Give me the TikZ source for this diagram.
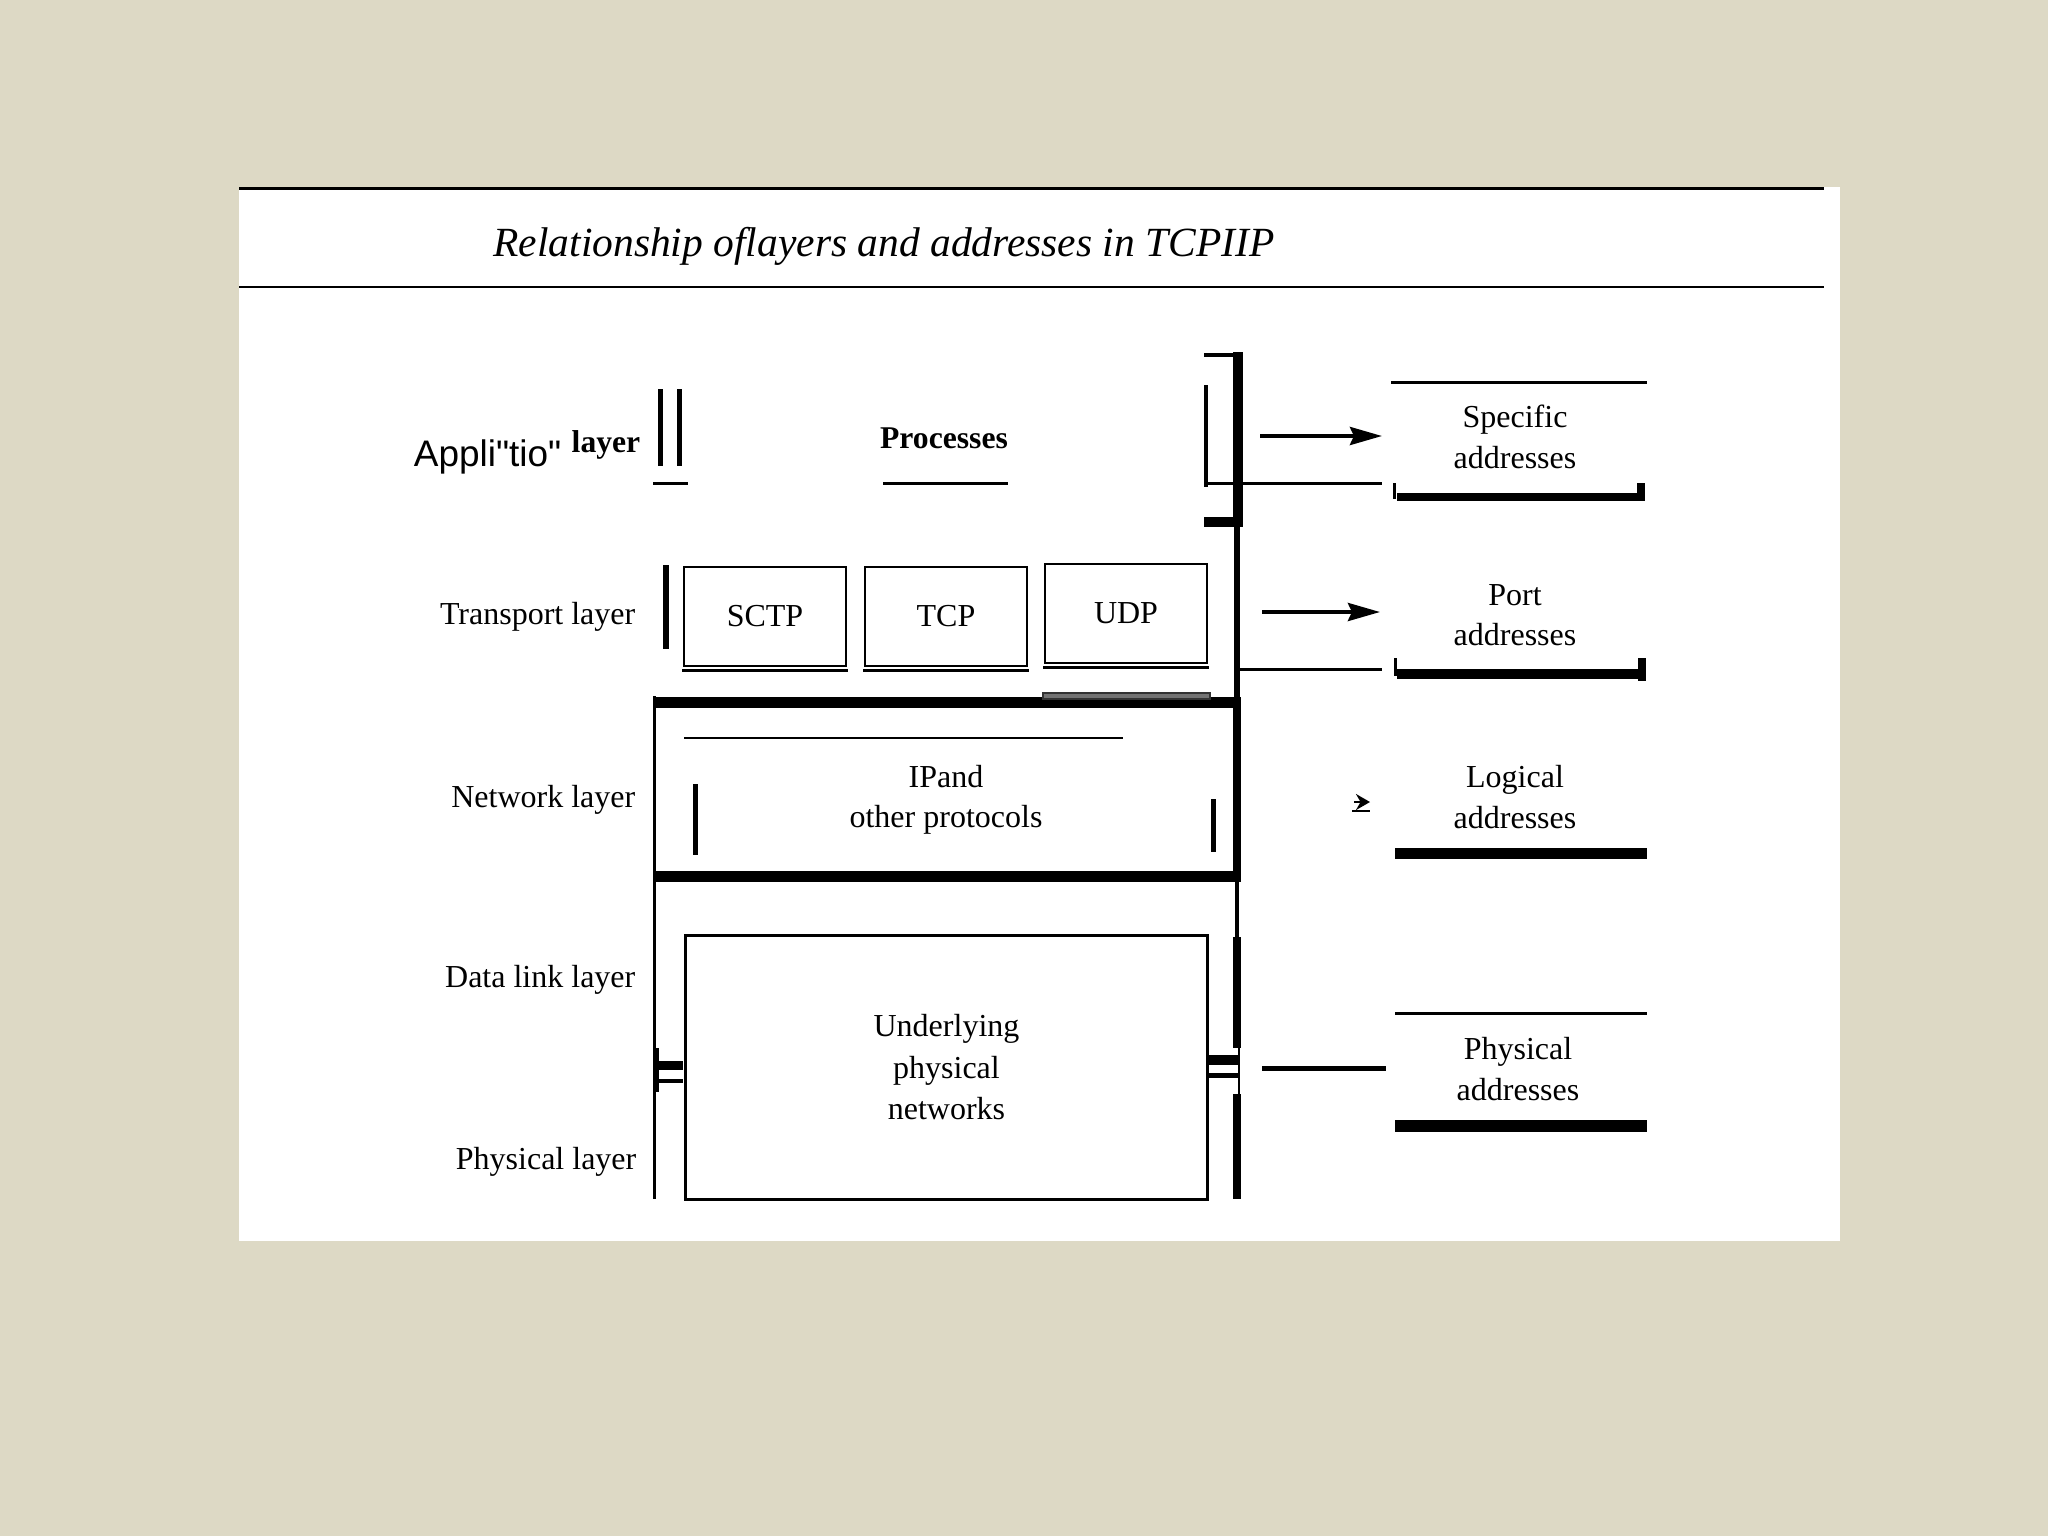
\documentclass[tikz,border=0pt]{standalone}
\usepackage{fontspec}
\setmainfont{Liberation Serif}
\newfontfamily\arialfont{Liberation Sans}
\usetikzlibrary{arrows.meta}
\definecolor{beige}{RGB}{221,217,197}
\begin{document}
\begin{tikzpicture}[x=0.01cm,y=-0.01cm,
  lab/.style={font=\fontsize{9.1}{11.5}\selectfont, inner sep=0pt, align=center},
  lyr/.style={font=\fontsize{9.1}{11.5}\selectfont, inner sep=0pt, anchor=base east},
  pbox/.style={draw, line width=0.025cm, minimum width=1.62cm, minimum height=0.99cm, inner sep=0pt, font=\fontsize{9.1}{11.5}\selectfont},
  lw2/.style={line width=0.025cm},
  lw3/.style={line width=0.03cm},
  lw5/.style={line width=0.05cm},
  lw8/.style={line width=0.08cm},
  lw10/.style={line width=0.10cm},
  arr/.style={line width=0.04cm, -{Stealth[length=0.32cm,width=0.18cm,inset=0.04cm]}}
]
\useasboundingbox (0,0) rectangle (2048,1536);
\fill[beige] (0,0) rectangle (2048,1536);
\fill[white] (239,187) rectangle (1840,1241);
\draw[lw3] (239,188) -- (1824,188);
\draw[lw2] (239,287) -- (1824,287);

% title
\node[font=\fontsize{11.8}{14}\selectfont\itshape, anchor=base, inner sep=0pt] (title) at (884,256) {Relationship oflayers and addresses in TCPIIP};

% ---------- application layer
\node[anchor=base east, inner sep=0pt, font=\arialfont\fontsize{10.5}{12}\selectfont] (appl) at (562,466) {Appli"tio"};
\node[anchor=base west, inner sep=0pt, font=\bfseries\fontsize{9}{11}\selectfont] (applayer) at (571,452) {layer};
\draw[lw5] (660,389) -- (660,466);
\draw[lw5] (679,389) -- (679,466);
\draw[lw3] (653,483) -- (688,483);
\node[anchor=base, inner sep=0pt, font=\bfseries\fontsize{9}{11}\selectfont] (proc) at (944,448) {Processes};
\draw[lw3] (883,483) -- (1008,483);

% bracket
\draw[line width=0.04cm] (1204,355) -- (1240,355);
\draw[lw10] (1238,352) -- (1238,527);
\draw[lw10] (1204,522) -- (1243,522);
\draw[line width=0.035cm] (1206,385) -- (1206,487);
\draw[lw3] (1206,483) -- (1382,483);

\coordinate (a1s) at (1260,436);
\coordinate (a1e) at (1382,436);
\draw[arr] (a1s) -- (a1e);

\node[lab] (spec) at (1515,437) {Specific\\addresses};
\draw[lw3] (1391,382) -- (1647,382);
\draw[lw8] (1397,497) -- (1645,497);
\draw[lw3] (1394,483) -- (1394,499);
\draw[lw8] (1641,483) -- (1641,501);

% ---------- transport layer
\node[lyr] (trl) at (636,624) {Transport layer};
\draw[line width=0.06cm] (666,565) -- (666,649);
\node[pbox] (sctp) at (765,616.5) {SCTP};
\node[pbox] (tcp) at (946,616.5) {TCP};
\node[pbox] (udp) at (1126,613.5) {UDP};
\draw[lw3] (682,670) -- (848,670);
\draw[lw3] (863,670) -- (1029,670);
\draw[lw3] (1043,667) -- (1209,667);

\draw[line width=0.055cm] (1237,527) -- (1237,703);
\draw[lw8] (1237,700) -- (1237,882);
\draw[lw3] (1237,669) -- (1382,669);
\coordinate (a2s) at (1262,612);
\coordinate (a2e) at (1380,612);
\draw[arr] (a2s) -- (a2e);

\node[lab] (port) at (1515,615) {Port\\addresses};
\draw[line width=0.10cm] (1397,674) -- (1645,674);
\draw[lw3] (1395,658) -- (1395,676);
\draw[lw8] (1642,658) -- (1642,681);

% ---------- network layer
\draw[line width=0.11cm] (653,702) -- (1241,702);
\draw[line width=0.015cm, draw=black!80, fill=black!55] (1043,693) rectangle (1210,699);
\draw[line width=0.11cm] (653,876) -- (1241,876);
\draw[lw3] (654,696) -- (654,1199);
\draw[lw2] (684,738) -- (1123,738);
\node[lab] (ip) at (946,800) {IPand\\other protocols};
\draw[lw5] (695,784) -- (695,855);
\draw[lw5] (1213,799) -- (1213,852);
\node[lyr] (nwl) at (636,807) {Network layer};

\coordinate (a3s) at (1354,802);
\coordinate (a3e) at (1370,802);
\draw[line width=0.02cm, -{Stealth[length=0.14cm,width=0.16cm]}] (a3s) -- (a3e);
\draw[line width=0.025cm] (1352,811) -- (1370,811);

\node[lab] (logic) at (1515,797) {Logical\\addresses};
\draw[line width=0.11cm] (1395,853) -- (1647,853);

% ---------- data link / physical
\node[lyr] (dll) at (636,987) {Data link layer};
\node[lyr] (phl) at (637,1169) {Physical layer};

\draw[line width=0.045cm] (1237,880) -- (1237,937);
\draw[lw8] (1237,937) -- (1237,1048);
\draw[line width=0.02cm] (1239,1046) -- (1239,1096);
\draw[line width=0.10cm] (1207,1060) -- (1240,1060);
\draw[lw5] (1207,1075) -- (1240,1075);
\draw[lw8] (1237,1094) -- (1237,1199);

\draw[line width=0.06cm] (656,1048) -- (656,1092);
\draw[line width=0.09cm] (656,1065) -- (683,1065);
\draw[line width=0.04cm] (656,1081) -- (683,1081);

\node[draw, lw3, minimum width=5.21cm, minimum height=2.63cm, inner sep=0pt, lab, font=\fontsize{9.1}{11.8}\selectfont] (under) at (946.5,1067.5) {Underlying\\physical\\networks};

\coordinate (a4s) at (1262,1068);
\coordinate (a4e) at (1386,1068);
\draw[lw5] (a4s) -- (a4e);

\node[lab] (phys) at (1518,1069) {Physical\\addresses};
\draw[lw3] (1395,1013) -- (1647,1013);
\draw[line width=0.12cm] (1395,1126) -- (1647,1126);
\end{tikzpicture}
\end{document}
